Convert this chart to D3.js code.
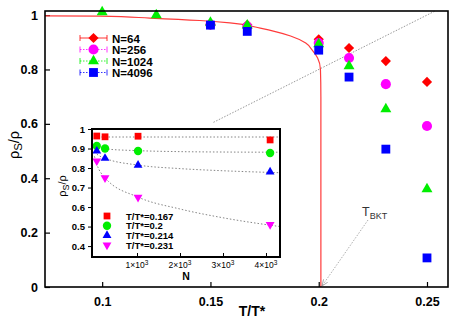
<!DOCTYPE html>
<html>
<head>
<meta charset="utf-8">
<title>superfluid density</title>
<script src="https://d3js.org/d3.v7.min.js"></script>
<style>
body { margin: 0; background: #fff; }
text { font-family: "Liberation Sans", Arial, sans-serif; }
</style>
</head>
<body>
<div id="chart"></div>
<script type="text/javascript">

// main plot data (rho_s/rho vs T/T*)
var temps = [0.1, 0.125, 0.15, 0.167, 0.2, 0.214, 0.231, 0.25];
var sizes = ["N=64", "N=256", "N=1024", "N=4096"];
var rhoN64   = [null, null, 0.965, 0.964, 0.911, 0.879, 0.831, 0.754];
var rhoN256  = [null, null, 0.965, 0.958, 0.897, 0.842, 0.746, 0.592];
var rhoN1024 = [1.011, 1.0, 0.972, 0.962, 0.893, 0.812, 0.654, 0.36];
var rhoN4096 = [null, null, 0.963, 0.94, 0.871, 0.772, 0.507, 0.107];

// theory curve
var curveT   = [0.0736, 0.099, 0.122, 0.145, 0.159, 0.173, 0.187, 0.194, 0.197, 0.1995, 0.2008, 0.201, 0.201];
var curveRho = [0.997, 0.996, 0.989, 0.98, 0.971, 0.952, 0.923, 0.897, 0.871, 0.842, 0.80, 0.70, 0];

// universal jump line rho = 4T (ends)
var jumpT = [0.1514, 0.2537];

// inset data (rho_s/rho vs N)
var insetN = [64, 256, 1024, 4096];
var insetLabels = ["T/T*=0.167", "T/T*=0.2", "T/T*=0.214", "T/T*=0.231"];
var rhoT167 = [0.964, 0.96, 0.963, 0.944];
var rhoT200 = [0.913, 0.90, 0.887, 0.877];
var rhoT214 = [0.887, 0.85, 0.815, 0.78];
var rhoT231 = [0.836, 0.75, 0.65, 0.51];

// dotted fit lines in inset
var fitN    = [10, 64, 256, 1024, 2000, 3000, 4326];
var fitT167 = [0.959, 0.959, 0.959, 0.959, 0.959, 0.959, 0.959];
var fitT200 = [0.912, 0.906, 0.898, 0.889, 0.884, 0.882, 0.881];
var fitT214 = [0.885, 0.872, 0.850, 0.815, 0.797, 0.786, 0.776];
var fitT231 = [0.86, 0.82, 0.75, 0.651, 0.590, 0.545, 0.50];

var xTicks = [0.1, 0.15, 0.2, 0.25];
var yTicks = [0, 0.2, 0.4, 0.6, 0.8, 1];
var insetXTicks = [1000, 2000, 3000, 4000];
var insetYTicks = [0.4, 0.5, 0.6, 0.7, 0.8, 0.9, 1];

var width = 463, height = 324;
var margin = {left: 45, top: 11, right: 15, bottom: 37};

var svg = d3.select("#chart").append("svg")
	.attr("width", width).attr("height", height);

svg.append("defs").append("marker")
	.attr("id", "arrow").attr("viewBox", "0 0 10 10")
	.attr("refX", 10).attr("refY", 5)
	.attr("markerWidth", 8).attr("markerHeight", 8)
	.attr("orient", "auto")
	.append("path").attr("d", "M0,1 L10,5 L0,9")
	.attr("fill", "none").attr("stroke", "#888").attr("stroke-width", 1);

var x = d3.scaleLinear().domain([0.0736, 0.2597]).range([margin.left, width - margin.right]);
var y = d3.scaleLinear().domain([0, 1.015]).range([height - margin.bottom, margin.top]);

var colors = ["#ff0000", "#ff00ff", "#00ee00", "#0000ff"];
var dashes = [null, "1.5,1.5", "1.5,1.5", "1.5,1.5"];

function markerPath(i, big) {
	var s = big ? 1 : 0.62;
	if (i == 0) return d3.symbol().type(d3.symbolSquare).size(52 * s)();
	if (i == 1) return d3.symbol().type(d3.symbolCircle).size(80 * s)();
	if (i == 2) return d3.symbol().type(d3.symbolTriangle).size(52 * s)();
	return d3.symbol().type(d3.symbolSquare).size(78 * s)();
}
function markerRot(i) { return i == 0 ? 45 : 0; }

// axes (ticks inward)
var xAxis = svg.append("g").attr("transform", "translate(0," + (height - margin.bottom) + ")")
	.call(d3.axisBottom(x).tickValues(xTicks).tickSizeInner(-5).tickSizeOuter(0).tickFormat(d3.format("")));
var yAxis = svg.append("g").attr("transform", "translate(" + margin.left + ",0)")
	.call(d3.axisLeft(y).tickValues(yTicks).tickSizeInner(-5).tickSizeOuter(0).tickFormat(d3.format("")));
[xAxis, yAxis].forEach(function(a) {
	a.select(".domain").remove();
	a.selectAll(".tick line").attr("stroke", "#000").attr("stroke-width", 1.2);
	a.selectAll("text").attr("font-size", 12.5).attr("font-weight", "bold").attr("fill", "#000")
		.style("font-family", "Liberation Sans, Arial, sans-serif");
});
xAxis.selectAll("text").attr("dy", "1.25em");
yAxis.selectAll("text").attr("x", -7);

// jump line
svg.append("line")
	.attr("x1", x(jumpT[0])).attr("y1", y(4 * jumpT[0]))
	.attr("x2", x(jumpT[1])).attr("y2", y(4 * jumpT[1]))
	.attr("stroke", "#999").attr("stroke-width", 1).attr("stroke-dasharray", "1.5,1.5");

// theory curve
var curvePts = curveT.map(function(t, i) { return [t, curveRho[i]]; });
svg.append("path").datum(curvePts)
	.attr("d", d3.line().x(function(d) { return x(d[0]); }).y(function(d) { return y(d[1]); }).curve(d3.curveMonotoneY))
	.attr("fill", "none").attr("stroke", "#ff3b3b").attr("stroke-width", 1.2);

// data markers
var series = [rhoN64, rhoN256, rhoN1024, rhoN4096];
series.forEach(function(vals, i) {
	var pts = temps.map(function(t, j) { return [t, vals[j]]; }).filter(function(d) { return d[1] != null; });
	svg.append("g").selectAll("path").data(pts).enter().append("path")
		.attr("d", markerPath(i, true))
		.attr("transform", function(d) { return "translate(" + x(d[0]) + "," + y(d[1]) + ") rotate(" + markerRot(i) + ")"; })
		.attr("fill", colors[i]);
});

// legend
sizes.forEach(function(name, i) {
	var ly = 38 + i * 11.5;
	var g = svg.append("g");
	g.append("line").attr("x1", 80).attr("x2", 107).attr("y1", ly).attr("y2", ly)
		.attr("stroke", colors[i]).attr("stroke-width", 0.8).attr("stroke-dasharray", dashes[i]);
	[80, 107].forEach(function(cx) {
		g.append("line").attr("x1", cx).attr("x2", cx).attr("y1", ly - 3).attr("y2", ly + 3)
			.attr("stroke", colors[i]).attr("stroke-width", 0.8);
	});
	g.append("path").attr("d", markerPath(i, true))
		.attr("transform", "translate(93.5," + ly + ") rotate(" + markerRot(i) + ")")
		.attr("fill", colors[i]);
	g.append("text").attr("x", 112).attr("y", ly + 4.5).text(name)
		.attr("font-size", 11.5).attr("font-weight", "bold");
});

// T_BKT annotation
svg.append("line").attr("x1", 368).attr("y1", 220).attr("x2", 322).attr("y2", 286)
	.attr("stroke", "#999").attr("stroke-width", 0.8).attr("stroke-dasharray", "1.5,1.5")
	.attr("marker-end", "url(#arrow)");
var tb = svg.append("text").attr("x", 362).attr("y", 216).attr("font-size", 12.5).attr("fill", "#333");
tb.append("tspan").text("T");
tb.append("tspan").attr("dy", 3).attr("font-size", 9).text("BKT");

// frame
svg.append("rect").attr("x", margin.left).attr("y", margin.top)
	.attr("width", width - margin.left - margin.right).attr("height", height - margin.top - margin.bottom)
	.attr("fill", "none").attr("stroke", "#000").attr("stroke-width", 1.6);

// axis labels
svg.append("text").attr("x", 252).attr("y", 316).attr("text-anchor", "middle")
	.attr("font-size", 14).attr("font-weight", "bold").text("T/T*");
var yl = svg.append("text").attr("transform", "translate(19,145) rotate(-90)")
	.attr("text-anchor", "middle").attr("font-size", 14.5);
yl.append("tspan").text("ρ");
yl.append("tspan").attr("dy", 3).attr("font-size", 11.5).text("S");
yl.append("tspan").attr("dy", -3).text("/ρ");

// ---------- inset ----------
var ix = d3.scaleLinear().domain([-47, 4326]).range([92, 280]);
var iy = d3.scaleLinear().domain([0.344, 1]).range([257, 129]);

var inset = svg.append("g");
inset.append("rect").attr("x", 92).attr("y", 129).attr("width", 188).attr("height", 128)
	.attr("fill", "#fff");

var ixAxis = inset.append("g").attr("transform", "translate(0,257)")
	.call(d3.axisBottom(ix).tickValues(insetXTicks).tickSizeInner(-4).tickSizeOuter(0).tickFormat(""));
var iyAxis = inset.append("g").attr("transform", "translate(92,0)")
	.call(d3.axisLeft(iy).tickValues(insetYTicks).tickSizeInner(4).tickSizeOuter(0).tickFormat(d3.format("")));
[ixAxis, iyAxis].forEach(function(a) {
	a.select(".domain").remove();
	a.selectAll(".tick line").attr("stroke", "#000").attr("stroke-width", 1);
});
iyAxis.selectAll("text").attr("font-size", 9.5).attr("font-weight", "bold").attr("fill", "#000")
	.style("font-family", "Liberation Sans, Arial, sans-serif");

// x tick labels as 1x10^3
insetXTicks.forEach(function(v) {
	var t = inset.append("text").attr("x", ix(v)).attr("y", 268).attr("text-anchor", "middle")
		.attr("font-size", 8.5);
	t.append("tspan").text((v / 1000) + "×10");
	t.append("tspan").attr("dy", -3.5).attr("font-size", 6.5).text("3");
});
inset.append("text").attr("x", 186).attr("y", 280).attr("text-anchor", "middle")
	.attr("font-size", 10.5).attr("font-weight", "bold").text("N");

var iyl = inset.append("text").attr("transform", "translate(66,186) rotate(-90)")
	.attr("text-anchor", "middle").attr("font-size", 11);
iyl.append("tspan").text("ρ");
iyl.append("tspan").attr("dy", 2.5).attr("font-size", 9).text("S");
iyl.append("tspan").attr("dy", -2.5).text("/ρ");

// fit lines
var fits = [fitT167, fitT200, fitT214, fitT231];
var fitLine = d3.line().x(function(d) { return ix(d[0]); }).y(function(d) { return iy(d[1]); }).curve(d3.curveMonotoneX);
fits.forEach(function(vals) {
	inset.append("path").datum(fitN.map(function(n, j) { return [n, vals[j]]; }))
		.attr("d", fitLine).attr("fill", "none")
		.attr("stroke", "#777").attr("stroke-width", 0.9).attr("stroke-dasharray", "1.5,2");
});

var insetColors = ["#ff0000", "#00ee00", "#0000ff", "#ff00ff"];
function insetMarker(i) {
	if (i == 0) return d3.symbol().type(d3.symbolSquare).size(46)();
	if (i == 1) return d3.symbol().type(d3.symbolCircle).size(55)();
	return d3.symbol().type(d3.symbolTriangle).size(34)();
}
var insetSeries = [rhoT167, rhoT200, rhoT214, rhoT231];
insetSeries.forEach(function(vals, i) {
	inset.append("g").selectAll("path").data(insetN).enter().append("path")
		.attr("d", insetMarker(i))
		.attr("transform", function(n, j) { return "translate(" + ix(n) + "," + iy(vals[j]) + ")" + (i == 3 ? " rotate(180)" : ""); })
		.attr("fill", insetColors[i]);
});

// inset legend
insetLabels.forEach(function(name, i) {
	var ly = 216 + i * 9.7;
	inset.append("path").attr("d", insetMarker(i))
		.attr("transform", "translate(107," + ly + ")" + (i == 3 ? " rotate(180)" : ""))
		.attr("fill", insetColors[i]);
	inset.append("text").attr("x", 126).attr("y", ly + 3.5).text(name)
		.attr("font-size", 9.5).attr("font-weight", "bold");
});

inset.append("rect").attr("x", 92).attr("y", 129).attr("width", 188).attr("height", 128)
	.attr("fill", "none").attr("stroke", "#000").attr("stroke-width", 2);

</script>
</body>
</html>
